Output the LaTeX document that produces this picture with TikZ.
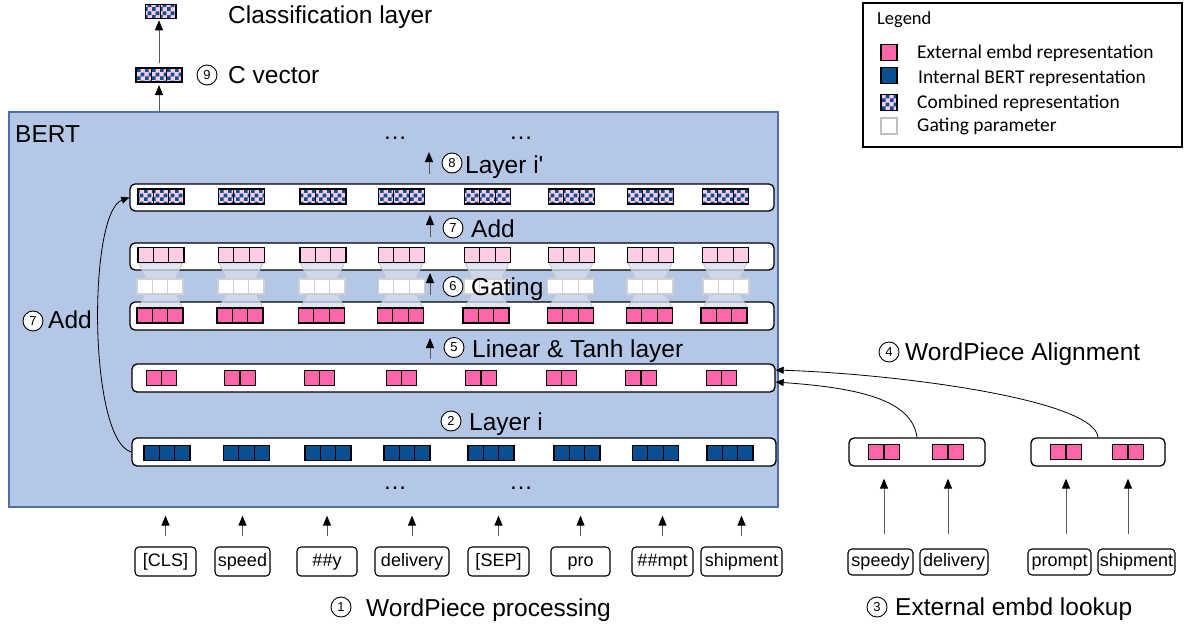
\documentclass[tikz,border=0pt]{standalone}
\usepackage{fontspec}
\setmainfont{Liberation Sans}
\newfontfamily\arial{Liberation Sans}
\newfontfamily\calfont{Carlito}
\usetikzlibrary{arrows.meta,patterns,calc}
\definecolor{bertbg}{HTML}{B4C7E7}
\definecolor{bertline}{HTML}{4E6FA8}
\definecolor{epink}{HTML}{FF66AA}
\definecolor{lpink}{HTML}{FFCCE5}
\definecolor{ibert}{HTML}{0A4F92}
\definecolor{hglass}{HTML}{D6DEEE}
\pgfdeclarepatternformonly{bigchecks}{\pgfpointorigin}{\pgfqpoint{7.6pt}{7.6pt}}{\pgfqpoint{7.6pt}{7.6pt}}{%
 \pgfpathrectangle{\pgfpointorigin}{\pgfqpoint{3.85pt}{3.85pt}}%
 \pgfpathrectangle{\pgfqpoint{3.8pt}{3.8pt}}{\pgfqpoint{3.85pt}{3.85pt}}%
 \pgfusepath{fill}}
\newcommand\fs[1]{\fontsize{#1}{#1}\selectfont}
\begin{document}
\begin{tikzpicture}[x=1pt,y=-1pt,
 cell/.style={draw=black,line width=1.2pt,minimum width=15.3pt,minimum height=15pt,inner sep=0pt,outer sep=0pt},
 pk/.style={cell,fill=epink},
 lpk/.style={cell,fill=lpink},
 bl/.style={cell,fill=ibert},
 cb/.style={cell,preaction={fill=lpink},pattern=bigchecks,pattern color=ibert},
 gt/.style={cell,draw=black!18,fill=white},
 rowbox/.style={draw=black,line width=1.3pt,fill=white,rounded corners=5pt,minimum width=644pt,minimum height=27pt,inner sep=0pt},
 tok/.style={draw=black,line width=1.1pt,rounded corners=4pt,minimum height=29pt,inner sep=0pt,text height=13pt,text depth=4pt,font=\arial\fs{18}},
 arr/.style={-{Triangle[width=8pt,length=10pt,color=black]},line width=1pt,black!65},
 curvearr/.style={-{Triangle[width=7pt,length=8pt]},line width=0.8pt,black},
 circ/.style={circle,draw=black,line width=0.9pt,fill=white,minimum size=20pt,inner sep=0pt,font=\arial\fs{13}},
 lbl/.style={anchor=base west,inner sep=0pt,font=\arial\fs{24.5}},
 legtxt/.style={anchor=base west,inner sep=0pt,font=\calfont\fs{19.5}},
 dotsn/.style={inner sep=0pt,font=\arial\fs{24}}
]
\useasboundingbox (0,0) rectangle (1190,627);

% BERT container
\node[draw=bertline,line width=1.2pt,fill=bertbg,minimum width=769pt,minimum height=395pt,inner sep=0pt] (bert) at (393.5,309.5) {};
\node[lbl] (bertlbl) at (15,142) {BERT};

% rows
\node[rowbox] (rComb) at (452,197.5) {};
\node[rowbox] (rLP) at (452,256.5) {};
\node[rowbox,minimum height=28pt] (rP) at (452,316) {};
\node[rowbox,minimum width=643pt,minimum height=28pt] (rP2) at (453.5,378) {};
\node[rowbox,minimum height=28pt] (rB) at (454,452) {};

% hourglasses (gating)
\foreach \c in {160.5,241,322.5,401,487,571,650,725}{
  \filldraw[fill=hglass,fill opacity=0.75,draw=black!22,line width=0.8pt]
   (\c-22,263) -- (\c+22,263) -- (\c+11,286) -- (\c+22,308) -- (\c-22,308) -- (\c-11,286) -- cycle;
}

% combined row and light pink row
\foreach \c [count=\i] in {161,241.5,323,401.5,487.5,571.5,650.5,725.5}{
  \foreach \d [count=\j] in {-15.3,0,15.3}{
    \node[cb] (comb-\i-\j) at (\c+\d,196.5) {};
    \node[lpk] (lp-\i-\j) at (\c+\d,255) {};
  }}
% external (after linear) row
\foreach \c [count=\i] in {160,240,321.5,400.5,486,570.5,649.5,724}{
  \foreach \d [count=\j] in {-15.3,0,15.3}{
    \node[pk] (ep-\i-\j) at (\c+\d,315.5) {};
  }}
% gating params
\foreach \c [count=\i] in {160,241,322,401.5,487,570.5,650,726}{
  \foreach \d [count=\j] in {-15.3,0,15.3}{
    \node[gt] (gp-\i-\j) at (\c+\d,286.5) {};
  }}
% two-cell pink row
\foreach \c [count=\i] in {161.5,240,319.5,401.5,481,561.5,641,721.5}{
  \foreach \d [count=\j] in {-7.65,7.65}{
    \node[pk] (p2-\i-\j) at (\c+\d,378) {};
  }}
% internal BERT row
\foreach \c [count=\i] in {167,246.5,328,407,491,577,655.5,730}{
  \foreach \d [count=\j] in {-15.3,0,15.3}{
    \node[bl] (ib-\i-\j) at (\c+\d,453) {};
  }}

% dots
\node[dotsn] (d1) at (395,138) {\dots};
\node[dotsn] (d2) at (521,138) {\dots};
\node[dotsn] (d3) at (395,488) {\dots};
\node[dotsn] (d4) at (521,488) {\dots};

% inner labels
\coordinate (a8s) at (429,174); \coordinate (a8e) at (429,152);
\draw[arr] (a8s) -- (a8e);
\node[circ] (c8) at (452,163) {8};
\node[lbl] (t8) at (465,173) {Layer i'};

\coordinate (a7s) at (430,237); \coordinate (a7e) at (430,215);
\draw[arr] (a7s) -- (a7e);
\node[circ] (c7) at (453,228) {7};
\node[lbl] (t7) at (471,237) {Add};

\coordinate (a6s) at (430,295); \coordinate (a6e) at (430,273);
\draw[arr] (a6s) -- (a6e);
\node[circ] (c6) at (453,286.5) {6};
\node[lbl] (t6) at (471,295) {Gating};

\coordinate (a5s) at (430,359); \coordinate (a5e) at (430,338);
\draw[arr] (a5s) -- (a5e);
\node[circ] (c5) at (454,347.5) {5};
\node[lbl] (t5) at (472,357) {Linear \& Tanh layer};

\node[circ] (c2) at (451,421) {2};
\node[lbl] (t2) at (469,430) {Layer i};

% residual add
\draw[curvearr] (rB.west) .. controls (88,440) and (88,212) .. (rComb.west);
\node[circ] (c7b) at (33,321) {7};
\node[lbl] (t7b) at (48,328) {Add};

% C vector and classification layer
\foreach \d [count=\j] in {-15.3,0,15.3}{
  \node[cb,minimum height=14pt] (cv-\j) at (159+\d,75) {};
}
\foreach \d [count=\j] in {-7.75,7.75}{
  \node[cb,minimum height=13.5pt] (cls-\j) at (160.5+\d,11.5) {};
}
\draw[arr] (cv-2 |- bert.north) -- ($(cv-2.south)+(0,3)$);
\draw[arr] ($(cv-2.north)+(0,-5)$) -- ($(cv-2.north |- cls-1.south)+(0,2)$);
\node[circ] (c9) at (207,75) {9};
\node[lbl] (tcv) at (228,83) {C vector};
\node[lbl] (tcls) at (228,23) {Classification layer};

% WordPiece tokens
\foreach \x/\w/\t [count=\i] in {165.5/61/{[CLS]},242.5/55/{speed},327/60/{\#\#y},412/74/{delivery},498.5/61/{[SEP]},580.5/59/{pro},662.5/61/{\#\#mpt},741.5/81/{shipment}}{
  \node[tok,minimum width=\w pt] (tk\i) at (\x,561.5) {\t};
  \draw[arr] ($(tk\i.north)+(0,-10)$) -- ($(tk\i.north |- bert.south)+(0,8)$);
}
\node[circ] (c1) at (341,607) {1};
\node[lbl] (t1) at (366,616) {WordPiece processing};

% external embedding lookup
\node[rowbox,minimum width=136pt,minimum height=28pt] (ext1) at (917,452) {};
\node[rowbox,minimum width=134pt,minimum height=28pt] (ext2) at (1098,452) {};
\foreach \c [count=\i] in {884,948,1066,1128}{
  \foreach \d [count=\j] in {-7.65,7.65}{
    \node[pk] (xp-\i-\j) at (\c+\d,452) {};
  }}
\node[tok,minimum width=65pt,minimum height=26pt] (etk1) at (880.5,562) {speedy};
\node[tok,minimum width=68pt,minimum height=26pt] (etk2) at (954,562) {delivery};
\node[tok,minimum width=63pt,minimum height=26pt] (etk3) at (1059.5,562) {prompt};
\node[tok,minimum width=77pt,minimum height=26pt] (etk4) at (1136.5,562) {shipment};
\foreach \i/\e in {1/ext1,2/ext1,3/ext2,4/ext2}{
  \draw[arr] ($(xp-\i-1.east |- etk\i.north)+(0,-14)$) -- ($(xp-\i-1.east |- \e.south)+(0,12)$);
}
\node[circ] (c3) at (877,607) {3};
\node[lbl] (t3) at (895,615) {External embd lookup};

% alignment curves
\draw[curvearr] (ext1.north) .. controls (912,400) and (860,388) .. ($(rP2.east)+(0,4)$);
\draw[curvearr] (ext2.north) .. controls (1095,400) and (900,374) .. ($(rP2.east)+(0,-8)$);
\node[circ] (c4) at (889,352) {4};
\node[lbl] (t4) at (905,360) {WordPiece Alignment};

% legend
\node[draw=black,line width=1.2pt,minimum width=319pt,minimum height=144pt,inner sep=0pt] (legend) at (1022.5,75) {};
\node[anchor=base west,inner sep=0pt,font=\calfont\fs{18.5}] (legt) at (877,24) {Legend};
\node[pk,minimum size=16pt] (lg1) at (889,52.5) {};
\node[bl,minimum size=16pt] (lg2) at (889,75.5) {};
\node[cb,minimum size=16pt] (lg3) at (889,102.5) {};
\node[gt,draw=black!25,minimum size=16pt] (lg4) at (889,126) {};
\node[legtxt] (lt1) at (917,58.5) {External embd representation};
\node[legtxt] (lt2) at (918,83) {Internal BERT representation};
\node[legtxt] (lt3) at (917,108) {Combined representation};
\node[legtxt] (lt4) at (917,131) {Gating parameter};
\end{tikzpicture}
\end{document}
